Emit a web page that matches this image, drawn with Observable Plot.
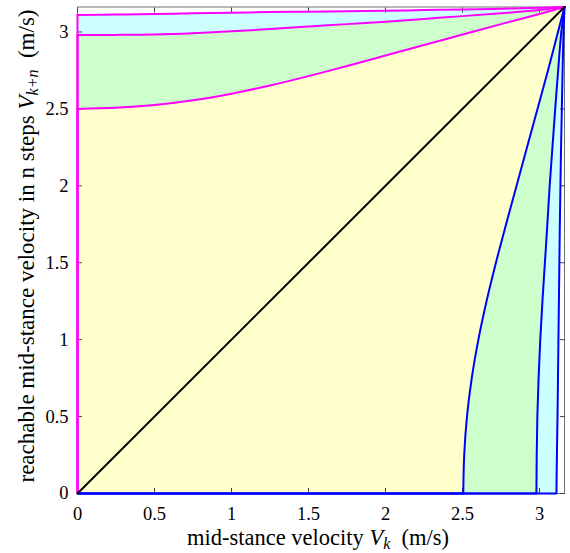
<!DOCTYPE html>
<html><head><meta charset="utf-8">
<script src="https://cdn.jsdelivr.net/npm/d3@7"></script>
<script src="https://cdn.jsdelivr.net/npm/@observablehq/plot@0.6"></script>
<style>
body{margin:0;background:#fff}
svg{font-family:"Liberation Serif","Times New Roman",serif}
</style>
</head><body><div id="chart"></div>
<script>
const VMAX = 3.1623;
const xTicks = [0, 0.5, 1, 1.5, 2, 2.5, 3];
const yTicks = [0, 0.5, 1, 1.5, 2, 2.5, 3];
const tickLabels = ["0", "0.5", "1", "1.5", "2", "2.5", "3"];

// sample positions along the curves (x for magenta curves, y for blue curves)
const gridV = [0, 0.25, 0.5, 0.75, 1, 1.25, 1.5, 1.75, 2, 2.25, 2.5, 2.75, 3, 3.1623];

// magenta (upper) boundaries: y values at gridV
const magOuter = [3.110, 3.113, 3.117, 3.121, 3.125, 3.129, 3.132, 3.135, 3.138, 3.142, 3.146, 3.151, 3.157, 3.1623];
const magMid   = [2.980, 2.981, 2.984, 2.992, 3.004, 3.019, 3.035, 3.051, 3.067, 3.085, 3.103, 3.122, 3.143, 3.1623];
const magInner = [2.500, 2.507, 2.525, 2.556, 2.599, 2.652, 2.713, 2.779, 2.847, 2.915, 2.983, 3.051, 3.117, 3.1623];

// blue (lower-right) boundaries: x values at gridV (as y)
const blueOuter = [3.110, 3.113, 3.117, 3.120, 3.123, 3.126, 3.129, 3.132, 3.136, 3.140, 3.145, 3.150, 3.156, 3.1623];
const blueMid   = [2.980, 2.982, 2.986, 2.994, 3.005, 3.019, 3.035, 3.051, 3.066, 3.084, 3.102, 3.121, 3.142, 3.1623];
const blueInner = [2.505, 2.511, 2.529, 2.560, 2.603, 2.656, 2.717, 2.783, 2.851, 2.919, 2.987, 3.055, 3.120, 3.1623];

const levelColors = ["#ccffff", "#ccffcc", "#ffffcc"];
const diag = [0, VMAX];

const levels = [
  {mag: magOuter, blue: blueOuter, fill: levelColors[0]},
  {mag: magMid, blue: blueMid, fill: levelColors[1]},
  {mag: magInner, blue: blueInner, fill: levelColors[2]}
];

function polygon(L) {
  const pts = [{x: 0, y: 0}];
  gridV.forEach((v, i) => pts.push({x: v, y: L.mag[i]}));
  for (let i = gridV.length - 1; i >= 0; --i) pts.push({x: L.blue[i], y: gridV[i]});
  pts.push({x: 0, y: 0});
  return pts;
}
function magCurve(L) { return gridV.map((v, i) => ({x: v, y: L.mag[i]})); }
function blueCurve(L) { return gridV.map((v, i) => ({x: L.blue[i], y: v})); }

const FONT = "'Liberation Serif', 'Times New Roman', serif";
const marks = [];
levels.forEach(L => marks.push(Plot.line(polygon(L), {x: "x", y: "y", fill: L.fill, stroke: "none"})));
marks.push(Plot.frame({stroke: "#707070", strokeWidth: 1}));
const tickStyle = {stroke: "#444", fill: "none", tickSize: 5, label: null};
marks.push(Plot.axisX(xTicks, {anchor: "bottom", dy: -5, ...tickStyle}));
marks.push(Plot.axisX(xTicks, {anchor: "top", dy: 5, ...tickStyle}));
marks.push(Plot.axisY(yTicks, {anchor: "left", dx: 5, ...tickStyle}));
marks.push(Plot.axisY(yTicks, {anchor: "right", dx: -5, ...tickStyle}));
marks.push(Plot.axisX(xTicks, {anchor: "bottom", tickSize: 0, tickPadding: 13, fill: "black", label: null, fontSize: 18.5, fontFamily: FONT, tickFormat: (d, i) => tickLabels[i]}));
marks.push(Plot.axisY(yTicks, {anchor: "left", tickSize: 0, tickPadding: 9, fill: "black", label: null, fontSize: 18.5, fontFamily: FONT, tickFormat: (d, i) => tickLabels[i]}));
levels.slice().reverse().forEach(L => {
  marks.push(Plot.ruleX([0], {y1: 0, y2: L.mag[0], stroke: "#ff00ff", strokeWidth: 2}));
  marks.push(Plot.line(magCurve(L), {x: "x", y: "y", stroke: "#ff00ff", strokeWidth: 2, curve: "monotone-x"}));
});
levels.slice().reverse().forEach(L => {
  marks.push(Plot.ruleY([0], {x1: 0, x2: L.blue[0], stroke: "#0000ff", strokeWidth: 2}));
  marks.push(Plot.line(blueCurve(L), {x: "x", y: "y", stroke: "#0000ff", strokeWidth: 2, curve: "monotone-y"}));
});
marks.push(Plot.line(diag, {x: d => d, y: d => d, stroke: "black", strokeWidth: 2}));

const svg = Plot.plot({
  width: 570, height: 553,
  marginLeft: 77, marginRight: 6, marginTop: 6.5, marginBottom: 60,
  x: {domain: [0, VMAX]},
  y: {domain: [0, VMAX]},
  style: {fontFamily: FONT, fontSize: "18px", background: "white"},
  marks
});
document.getElementById("chart").append(svg);

// axis titles with italic variable and subscripts
const s = d3.select(svg);
const xl = s.append("text").attr("x", 318).attr("y", 545).attr("text-anchor", "middle")
  .attr("font-family", FONT).attr("font-size", 22.5).attr("fill", "black").attr("xml:space", "preserve");
xl.append("tspan").text("mid-stance velocity ");
xl.append("tspan").attr("font-style", "italic").text("V");
xl.append("tspan").attr("font-style", "italic").attr("font-size", 16).attr("dy", 4).text("k");
xl.append("tspan").attr("dy", -4).text("  (m/s)");

const yl = s.append("text").attr("transform", "translate(34,246) rotate(-90)").attr("text-anchor", "middle")
  .attr("font-family", FONT).attr("font-size", 23).attr("fill", "black").attr("xml:space", "preserve");
yl.append("tspan").text("reachable mid-stance velocity in n steps ");
yl.append("tspan").attr("font-style", "italic").text("V");
yl.append("tspan").attr("font-style", "italic").attr("font-size", 16).attr("dy", 4).text("k+n");
yl.append("tspan").attr("dy", -4).text("  (m/s)");
</script>
</body></html>
